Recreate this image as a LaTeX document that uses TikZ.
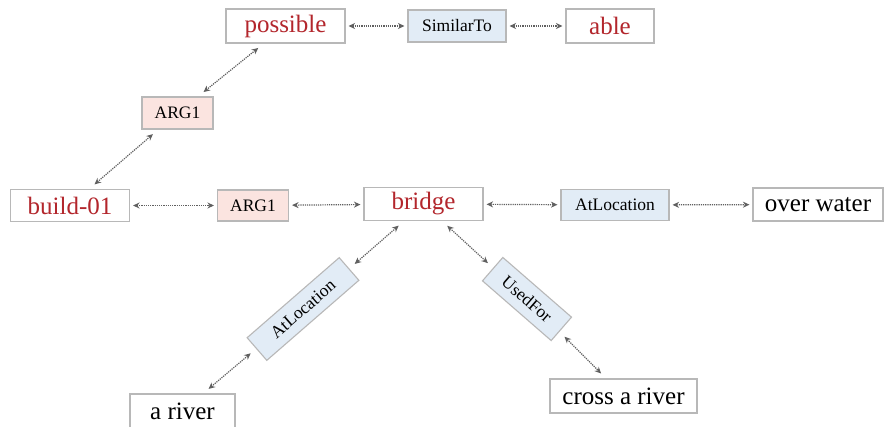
\documentclass[tikz,border=0pt]{standalone}
\usepackage{fontspec}
\setmainfont{Liberation Serif}
\usetikzlibrary{arrows.meta}
\definecolor{cred}{HTML}{B3262C}
\definecolor{cborder}{HTML}{B8B8B8}
\definecolor{cpink}{HTML}{FBE4E0}
\definecolor{cblue}{HTML}{E2ECF6}
\definecolor{cline}{HTML}{606060}
\begin{document}
\begin{tikzpicture}[x=1pt,y=1pt,
  box/.style={draw=cborder, line width=1.1pt, fill=white, inner sep=0pt, font=\fontsize{25}{28}\selectfont},
  concept/.style={box, text=cred},
  plain/.style={box, text=black},
  rel/.style={draw=cborder, line width=1.1pt, inner sep=0pt, text=black, font=\fontsize{17.5}{20}\selectfont},
  argrel/.style={rel, fill=cpink},
  cnrel/.style={rel, fill=cblue},
  link/.style={draw=cline, line width=1.2pt, densely dotted, {Stealth[length=6.5pt,width=6pt]}-{Stealth[length=6.5pt,width=6pt]}, shorten <=3pt, shorten >=3pt},
  dlink/.style={link, shorten <=7pt, shorten >=7pt}]
\useasboundingbox (0,0) rectangle (885,-426);
\fill[white] (0,0) rectangle (885,-426);
% top row
\node[concept, minimum width=119, minimum height=34] (possible) at (285.5,-26) {possible};
\node[cnrel, minimum width=98, minimum height=32] (sim) at (457,-26) {SimilarTo};
\node[concept, minimum width=88, minimum height=34] (able) at (610,-26) {able};
% upper ARG1
\node[argrel, minimum width=71, minimum height=32] (arga) at (177.5,-113) {ARG1};
% middle row
\node[concept, minimum width=119, minimum height=32] (build) at (70,-205.5) {build-01};
\node[argrel, minimum width=71, minimum height=31] (argb) at (253,-205.5) {ARG1};
\node[concept, minimum width=119, minimum height=33] (bridge) at (423.5,-204) {bridge};
\node[cnrel, minimum width=108, minimum height=31] (atr) at (615,-205) {AtLocation};
\node[plain, minimum width=130, minimum height=33] (water) at (818,-204.5) {over water};
% rotated relations
\node[cnrel, rotate=41, minimum width=122, minimum height=30] (atl) at (303,-309) {AtLocation};
\node[cnrel, rotate=-41, minimum width=91, minimum height=31] (used) at (527,-299) {UsedFor};
% bottom
\node[plain, minimum width=105, minimum height=34] (ariver) at (182.5,-411) {a river};
\node[plain, minimum width=147, minimum height=34] (cross) at (623.5,-396) {cross a river};
% connectors
\draw[link] (possible) -- (sim);
\draw[link] (sim) -- (able);
\draw[link] (build) -- (argb);
\draw[link] (argb) -- (bridge);
\draw[link] (bridge) -- (atr);
\draw[link] (atr) -- (water);
\draw[dlink] (possible) -- (arga);
\draw[dlink] (arga) -- (build);
\draw[dlink] (bridge) -- (atl);
\draw[dlink] (atl) -- (ariver);
\draw[dlink] (bridge) -- (used);
\draw[dlink] (used) -- (cross);
\end{tikzpicture}
\end{document}
